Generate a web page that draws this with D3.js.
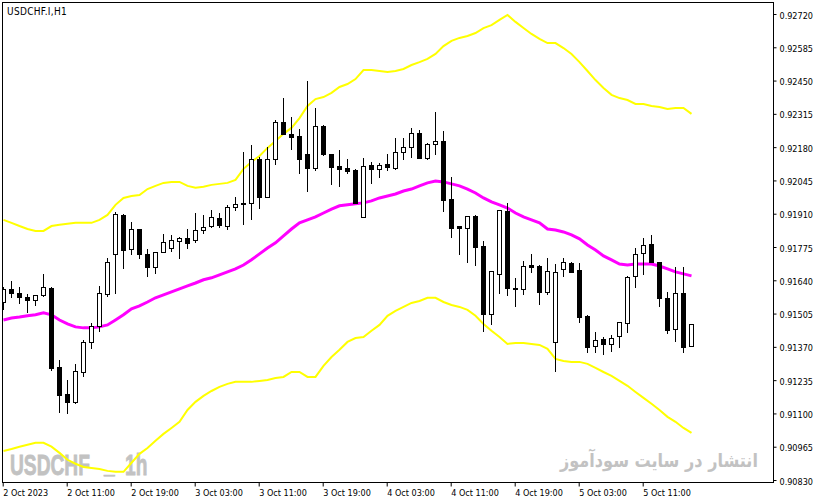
<!DOCTYPE html>
<html>
<head>
<meta charset="utf-8">
<script src="https://cdn.jsdelivr.net/npm/d3@7"></script>
<style>
  body { margin: 0; background: #fff; }
  text { font-family: "DejaVu Sans Condensed", "DejaVu Sans", "Liberation Sans", sans-serif; font-stretch: condensed; }
</style>
</head>
<body>
<div class="chart"></div>
<script>
// USDCHF.I H1 candles, one value per bar
var openP = [
  0.91552,0.91605,0.91589,0.91573,0.91560,0.91581,0.91609,0.91289,0.91179,0.91147,
  0.91268,0.91390,0.91455,0.91585,0.91747,0.91905,0.91767,0.91848,0.91747,0.91694,
  0.91755,0.91771,0.91800,0.91812,0.91804,0.91844,0.91860,0.91893,0.91860,0.91937,
  0.91954,0.91954,0.92132,0.91978,0.92132,0.92282,0.92234,0.92225,0.92152,0.92096,
  0.92266,0.92152,0.92104,0.92096,0.92088,0.91897,0.92108,0.92092,0.92112,0.92096,
  0.92160,0.92181,0.92238,0.92136,0.92193,0.92205,0.91970,0.91860,0.91852,0.91901,
  0.91779,0.91504,0.91666,0.91921,0.91609,0.91605,0.91702,0.91698,0.91593,0.91390,
  0.91686,0.91710,0.91682,0.91496,0.91374,0.91402,0.91382,0.91414,0.91467,0.91658,
  0.91751,0.91787,0.91714,0.91569,0.91443,0.91589,0.91374
];
var highP = [
  0.91613,0.91637,0.91613,0.91585,0.91581,0.91666,0.91613,0.91317,0.91236,0.91301,
  0.91398,0.91467,0.91617,0.91731,0.91917,0.91907,0.91877,0.91850,0.91767,0.91755,
  0.91828,0.91824,0.91814,0.91848,0.91913,0.91905,0.91925,0.91913,0.91946,0.91978,
  0.92160,0.92189,0.92140,0.92181,0.92290,0.92379,0.92302,0.92254,0.92448,0.92339,
  0.92270,0.92154,0.92169,0.92132,0.92090,0.92136,0.92120,0.92116,0.92152,0.92217,
  0.92217,0.92258,0.92250,0.92197,0.92323,0.92246,0.92059,0.91862,0.91901,0.91905,
  0.91800,0.91678,0.91925,0.91954,0.91650,0.91719,0.91747,0.91700,0.91731,0.91706,
  0.91731,0.91714,0.91710,0.91498,0.91431,0.91410,0.91418,0.91471,0.91658,0.91771,
  0.91812,0.91824,0.91716,0.91593,0.91694,0.91694,0.91463
];
var lowP = [
  0.91524,0.91573,0.91548,0.91512,0.91540,0.91577,0.91277,0.91106,0.91102,0.91143,
  0.91252,0.91366,0.91435,0.91577,0.91589,0.91690,0.91747,0.91731,0.91658,0.91670,
  0.91753,0.91759,0.91731,0.91771,0.91796,0.91832,0.91858,0.91856,0.91848,0.91925,
  0.91869,0.91889,0.91933,0.91976,0.92112,0.92234,0.92173,0.92075,0.92002,0.92088,
  0.92148,0.92031,0.92023,0.92075,0.91952,0.91895,0.92035,0.92059,0.92088,0.92092,
  0.92132,0.92140,0.92136,0.92132,0.92152,0.91921,0.91816,0.91747,0.91714,0.91702,
  0.91435,0.91463,0.91589,0.91581,0.91536,0.91585,0.91674,0.91544,0.91585,0.91272,
  0.91658,0.91674,0.91471,0.91350,0.91350,0.91341,0.91354,0.91370,0.91431,0.91613,
  0.91666,0.91714,0.91536,0.91427,0.91394,0.91350,0.91372
];
var closeP = [
  0.91605,0.91589,0.91573,0.91560,0.91581,0.91613,0.91285,0.91175,0.91147,0.91272,
  0.91390,0.91455,0.91589,0.91714,0.91909,0.91763,0.91848,0.91747,0.91694,0.91755,
  0.91796,0.91804,0.91810,0.91792,0.91844,0.91856,0.91897,0.91865,0.91937,0.91950,
  0.91950,0.92132,0.91978,0.92132,0.92282,0.92234,0.92221,0.92132,0.92096,0.92266,
  0.92152,0.92100,0.92092,0.92083,0.91954,0.92104,0.92092,0.92108,0.92100,0.92160,
  0.92181,0.92238,0.92136,0.92193,0.92205,0.91966,0.91852,0.91852,0.91901,0.91775,
  0.91504,0.91678,0.91925,0.91609,0.91605,0.91698,0.91694,0.91593,0.91678,0.91674,
  0.91714,0.91674,0.91491,0.91370,0.91398,0.91382,0.91406,0.91471,0.91654,0.91747,
  0.91783,0.91714,0.91569,0.91439,0.91589,0.91370,0.91463
];

// bollinger bands as drawn on the chart
var bbUpper = [
  0.91885,0.91873,0.91860,0.91848,0.91840,0.91840,0.91860,0.91865,0.91869,0.91873,
  0.91873,0.91873,0.91885,0.91905,0.91946,0.91974,0.91982,0.91986,0.92010,0.92023,
  0.92035,0.92039,0.92039,0.92023,0.92015,0.92019,0.92027,0.92031,0.92035,0.92047,
  0.92092,0.92120,0.92144,0.92177,0.92205,0.92234,0.92258,0.92298,0.92347,0.92375,
  0.92383,0.92400,0.92424,0.92436,0.92456,0.92493,0.92493,0.92489,0.92485,0.92489,
  0.92497,0.92513,0.92525,0.92538,0.92558,0.92590,0.92611,0.92623,0.92631,0.92643,
  0.92663,0.92675,0.92696,0.92716,0.92688,0.92663,0.92639,0.92619,0.92602,0.92602,
  0.92582,0.92558,0.92525,0.92489,0.92452,0.92420,0.92392,0.92379,0.92371,0.92355,
  0.92355,0.92347,0.92343,0.92335,0.92339,0.92339,0.92315
];
var bbMiddle = [
  0.91479,0.91487,0.91491,0.91496,0.91500,0.91508,0.91500,0.91479,0.91463,0.91451,
  0.91447,0.91447,0.91451,0.91459,0.91479,0.91500,0.91524,0.91536,0.91552,0.91569,
  0.91581,0.91593,0.91605,0.91617,0.91629,0.91642,0.91650,0.91662,0.91674,0.91686,
  0.91702,0.91723,0.91747,0.91771,0.91792,0.91820,0.91848,0.91873,0.91885,0.91897,
  0.91913,0.91929,0.91942,0.91946,0.91950,0.91954,0.91962,0.91974,0.91982,0.91990,
  0.92002,0.92010,0.92023,0.92035,0.92043,0.92039,0.92031,0.92023,0.92010,0.91994,
  0.91974,0.91958,0.91946,0.91933,0.91913,0.91897,0.91885,0.91873,0.91848,0.91844,
  0.91836,0.91824,0.91808,0.91783,0.91763,0.91739,0.91723,0.91706,0.91702,0.91706,
  0.91706,0.91706,0.91698,0.91686,0.91674,0.91666,0.91658
];
var bbLower = [
  0.90948,0.90956,0.90965,0.90973,0.90981,0.90981,0.90965,0.90940,0.90912,0.90896,
  0.90883,0.90879,0.90875,0.90867,0.90863,0.90863,0.90900,0.90936,0.90960,0.90989,
  0.91017,0.91041,0.91066,0.91114,0.91147,0.91171,0.91191,0.91208,0.91220,0.91228,
  0.91228,0.91228,0.91232,0.91236,0.91244,0.91248,0.91268,0.91268,0.91248,0.91248,
  0.91293,0.91329,0.91358,0.91390,0.91406,0.91410,0.91435,0.91459,0.91496,0.91516,
  0.91532,0.91548,0.91556,0.91569,0.91569,0.91552,0.91540,0.91532,0.91520,0.91496,
  0.91463,0.91435,0.91410,0.91382,0.91386,0.91386,0.91382,0.91378,0.91362,0.91321,
  0.91313,0.91309,0.91309,0.91301,0.91285,0.91268,0.91252,0.91232,0.91212,0.91187,
  0.91163,0.91139,0.91114,0.91086,0.91066,0.91041,0.91021
];

// axis labels
var priceTicks = [0.92720,0.92585,0.92450,0.92315,0.92180,0.92045,0.91910,0.91775,
  0.91640,0.91505,0.91370,0.91235,0.91100,0.90965,0.90830];
var timeTickBars = [0, 8, 16, 24, 32, 40, 48, 56, 64, 72, 80];
var timeLabels = ["2 Oct 2023", "2 Oct 11:00", "2 Oct 19:00", "3 Oct 03:00", "3 Oct 11:00",
  "3 Oct 19:00", "4 Oct 03:00", "4 Oct 11:00", "4 Oct 19:00", "5 Oct 03:00", "5 Oct 11:00"];

var svgWidth = 820, svgHeight = 504;
var plot = { left: 3, top: 3, right: 773, bottom: 482 };

var svg = d3.select(".chart").append("svg")
  .attr("width", svgWidth)
  .attr("height", svgHeight)
  .style("display", "block");

var x = d3.scaleLinear().domain([0, openP.length - 1]).range([3.5, 3.5 + 8 * (openP.length - 1)]);
var y = d3.scaleLinear().domain([0.90830, 0.92720]).range([480, 14]);

svg.append("defs").append("clipPath").attr("id", "plotClip")
  .append("rect")
  .attr("x", plot.left).attr("y", plot.top)
  .attr("width", plot.right - plot.left).attr("height", plot.bottom - plot.top);

// watermarks (behind everything)
var wm = svg.append("text")
  .attr("fill", "#c2c2c2")
  .attr("stroke", "#c2c2c2").attr("stroke-width", 0.8)
  .style("font-family", "'Liberation Sans', Arial, sans-serif")
  .style("font-stretch", "normal")
  .style("font-weight", "bold")
  .attr("font-size", 30)
  .attr("x", 0).attr("y", 0);
var wmName = wm.append("tspan").attr("x", 0).text("USDCHF");
var sx = 80 / wmName.node().getComputedTextLength();
wm.append("tspan").attr("x", 94 / sx).attr("dy", -2).text("_");
wm.append("tspan").attr("x", 115 / sx).attr("dy", 2).text("1h");
wm.attr("transform", `translate(10, 475) scale(${sx}, 1)`);

var fa = svg.append("text")
  .attr("fill", "#c2c2c2")
  .style("font-family", "'DejaVu Sans', sans-serif")
  .style("font-stretch", "normal")
  .style("font-weight", "bold")
  .attr("font-size", 19)
  .attr("x", 0).attr("y", 0)
  .text("انتشار در سایت سودآموز");
var fx = 198 / fa.node().getComputedTextLength();
fa.attr("transform", `translate(560, 467) scale(${fx}, 1)`);

var chartGroup = svg.append("g").attr("clip-path", "url(#plotClip)");

// bands
function bandLine(values) {
  return d3.line().x(function(d, i) { return x(i); }).y(function(d) { return y(d); })(values);
}
chartGroup.append("path").attr("d", bandLine(bbUpper))
  .attr("fill", "none").attr("stroke", "#ffff00").attr("stroke-width", 2);
chartGroup.append("path").attr("d", bandLine(bbLower))
  .attr("fill", "none").attr("stroke", "#ffff00").attr("stroke-width", 2);
chartGroup.append("path").attr("d", bandLine(bbMiddle))
  .attr("fill", "none").attr("stroke", "#ff00ff").attr("stroke-width", 3);

// candles
var bars = openP.map(function(o, i) {
  return { i: i, o: o, h: highP[i], l: lowP[i], c: closeP[i] };
});

var candle = chartGroup.selectAll("g.candle")
  .data(bars)
  .enter()
  .append("g")
  .attr("class", "candle")
  .attr("shape-rendering", "crispEdges");

candle.append("line")
  .attr("x1", d => x(d.i)).attr("x2", d => x(d.i))
  .attr("y1", d => Math.round(y(d.h)))
  .attr("y2", d => Math.round(y(d.l)) + 1)
  .attr("stroke", "#000").attr("stroke-width", 1);

candle.each(function(d) {
  var g = d3.select(this);
  var top = Math.round(y(Math.max(d.o, d.c)));
  var bot = Math.round(y(Math.min(d.o, d.c)));
  var cx = x(d.i);
  if (d.c >= d.o && bot - top > 1) {
    g.append("rect")
      .attr("x", cx - 2).attr("y", top + 0.5)
      .attr("width", 4).attr("height", bot - top)
      .attr("fill", "#fff").attr("stroke", "#000").attr("stroke-width", 1);
  } else {
    g.append("rect")
      .attr("x", cx - 2.5).attr("y", top)
      .attr("width", 5).attr("height", Math.max(1, bot - top + 1))
      .attr("fill", "#000");
  }
});

// frame
svg.append("rect")
  .attr("x", 2.5).attr("y", 2.5)
  .attr("width", 771).attr("height", 480)
  .attr("fill", "none").attr("stroke", "#000").attr("stroke-width", 1)
  .attr("shape-rendering", "crispEdges");

// price axis
var rightAxis = d3.axisRight(y)
  .tickValues(priceTicks)
  .tickSize(3)
  .tickPadding(3)
  .tickFormat(d3.format(".5f"));
var ra = svg.append("g")
  .attr("transform", "translate(773.5, 0)")
  .call(rightAxis);
ra.select(".domain").remove();
ra.attr("font-family", null).attr("font-size", 9);
ra.selectAll("text").attr("fill", "#000").attr("dy", "0.45em");

// time axis
var bottomAxis = d3.axisBottom(x)
  .tickValues(timeTickBars)
  .tickSize(4)
  .tickPadding(3)
  .tickFormat(function(d, i) { return timeLabels[i]; });
var ba = svg.append("g")
  .attr("transform", "translate(-0.8, 482.5)")
  .call(bottomAxis);
ba.select(".domain").remove();
ba.attr("font-family", null).attr("font-size", 9);
ba.selectAll("text").attr("text-anchor", "start").attr("fill", "#000");

// symbol title
svg.append("text")
  .attr("x", 7).attr("y", 14.5)
  .attr("font-size", 10)
  .attr("letter-spacing", 0.3)
  .attr("fill", "#000")
  .text("USDCHF.I,H1");
</script>
</body>
</html>
